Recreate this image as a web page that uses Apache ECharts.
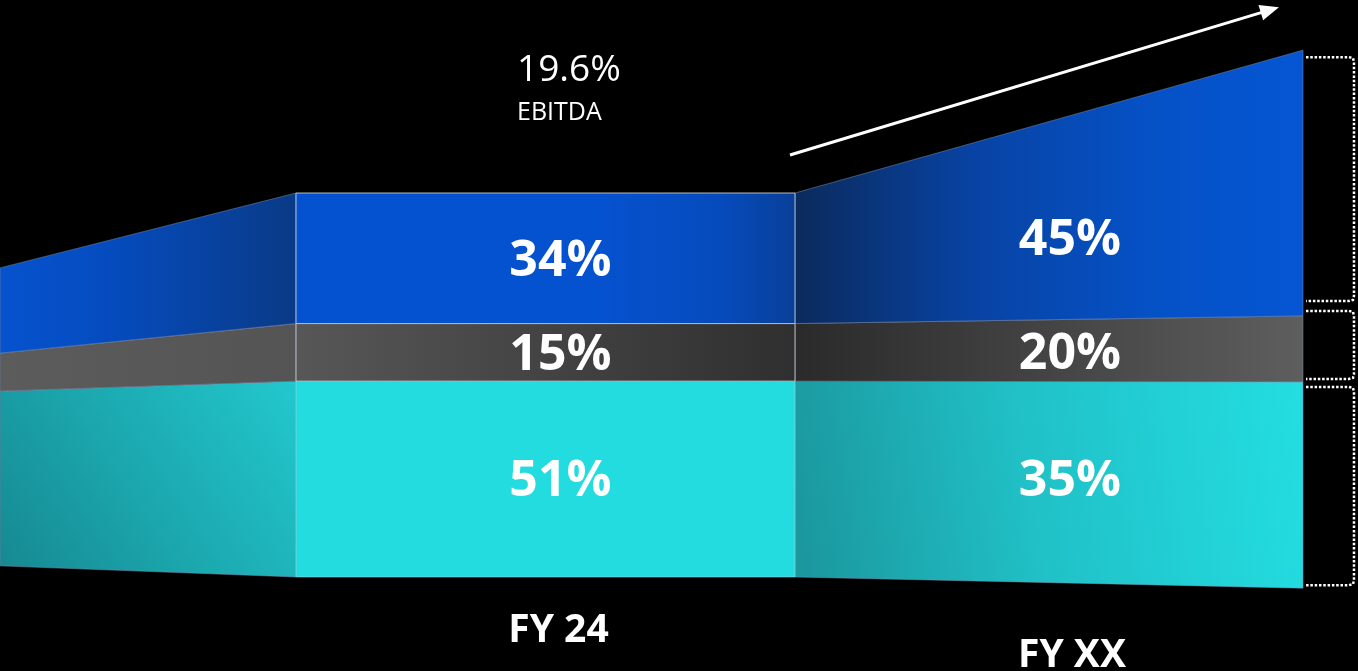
<!DOCTYPE html>
<html><head><meta charset="utf-8">
<script src="https://cdn.jsdelivr.net/npm/echarts@6/dist/echarts.min.js"></script>
<style>html,body{margin:0;padding:0;background:#000}#c{width:1358px;height:671px}</style>
</head><body><div id="c"></div>
<script>
// ---- data ----
const categories = ['FY 24', 'FY XX'];
const bandNames = ['Teal', 'Grey', 'Blue'];        // bottom to top
const fy24Shares = [51, 15, 34];
const fyXXShares = [35, 20, 45];
const ebitdaMargin = '19.6%';
const ebitdaCaption = 'EBITDA';
// drawn perspective geometry, in value units (FY 24 front face spans x 0..1, y 0..100)
const edgeX = [-0.593, 0, 1, 2.018];
const leftFadeBounds = [2.9, 48.4, 58.3, 80.5];
const fyXXBounds = [-2.9, 50.8, 68.0, 137.2];
const labelX = [0.53, 1.551];

// ---- build ----
const fy24Bounds = [0];
fy24Shares.forEach((s, i) => fy24Bounds.push(fy24Bounds[i] + s));

const LG = (x, y, x2, y2, stops) => new echarts.graphic.LinearGradient(x, y, x2, y2,
  stops.map(([o, c]) => ({ offset: o, color: c })));

const fills = [
  [ // teal
    LG(0, 1, 1, 0, [[0, '#168891'], [0.5, '#1CA9B0'], [1, '#22C8CE']]),
    '#22DCE0',
    LG(0, 0.7, 1, 0.3, [[0, '#1B979E'], [0.45, '#20C0C6'], [1, '#23DDE1']])
  ],
  [ // grey
    LG(0, 0, 1, 0, [[0, '#5C5C5C'], [1, '#545454']]),
    LG(0, 0, 1, 0, [[0, '#575757'], [1, '#2F2F2F']]),
    LG(0, 0, 1, 0, [[0, '#2A2A2A'], [1, '#5E5E5E']])
  ],
  [ // blue
    LG(0, 0, 1, 0, [[0, '#0553CE'], [0.35, '#054CC0'], [1, '#0A3A86']]),
    LG(0, 0, 1, 0, [[0, '#0552D0'], [0.6, '#0552D0'], [0.85, '#064BBC'], [1, '#093F98']]),
    LG(0, 0, 1, 0, [[0, '#0B2A5C'], [0.35, '#0843A3'], [0.7, '#0551C6'], [1, '#0556D4']])
  ]
];

// segments: 0 = left fade, 2 = right widening side, 1 = front face (drawn last)
const segs = [
  { s: 0, x0: edgeX[0], x1: edgeX[1], b0: leftFadeBounds, b1: fy24Bounds },
  { s: 2, x0: edgeX[2], x1: edgeX[3], b0: fy24Bounds, b1: fyXXBounds },
  { s: 1, x0: edgeX[1], x1: edgeX[2], b0: fy24Bounds, b1: fy24Bounds }
];
const bandData = [];
segs.forEach(sg => {
  for (let b = 0; b < 3; b++) {
    bandData.push([b, sg.s, sg.x0, sg.x1, sg.b0[b], sg.b0[b + 1], sg.b1[b], sg.b1[b + 1]]);
  }
});

// labels: [band, col, x, yMid]
const labelData = [];
const interp = (x, b) => {
  const t = (x - edgeX[2]) / (edgeX[3] - edgeX[2]);
  return fy24Bounds[b] + t * (fyXXBounds[b] - fy24Bounds[b]);
};
for (let b = 0; b < 3; b++) {
  labelData.push([b, 0, labelX[0], (fy24Bounds[b] + fy24Bounds[b + 1]) / 2]);
  labelData.push([b, 1, labelX[1], (interp(labelX[1], b) + interp(labelX[1], b + 1)) / 2]);
}
const shares = [fy24Shares, fyXXShares];
const fyXXLabelShift = [-4, 1, 20];

const chart = echarts.init(document.getElementById('c'), null, { renderer: 'canvas' });
chart.setOption({
  backgroundColor: '#000',
  animation: false,
  grid: { left: 296, right: 563, top: 193, bottom: 94 },
  xAxis: { type: 'value', min: 0, max: 1, show: false },
  yAxis: { type: 'value', min: 0, max: 100, show: false },
  series: [
    {
      type: 'custom', clip: false, silent: true,
      encode: { x: [2, 3], y: [4, 5] },
      data: bandData,
      renderItem: (params, api) => {
        const b = api.value(0), s = api.value(1);
        const x0 = api.value(2), x1 = api.value(3);
        const p = [
          api.coord([x0, api.value(4)]), api.coord([x0, api.value(5)]),
          api.coord([x1, api.value(7)]), api.coord([x1, api.value(6)])
        ];
        return {
          type: 'polygon', shape: { points: p },
          style: {
            fill: fills[b][s],
            stroke: s === 1 ? 'rgba(200,208,220,0.5)' : 'rgba(130,150,185,0.35)',
            lineWidth: s === 1 ? 1 : 0.8
          }
        };
      }
    },
    {
      type: 'custom', clip: false, silent: true,
      encode: { x: 2, y: 3 },
      data: labelData,
      renderItem: (params, api) => {
        const b = api.value(0), col = api.value(1);
        const pt = api.coord([api.value(2), api.value(3)]);
        return {
          type: 'text', x: pt[0], y: pt[1] + 3 + (col === 1 ? fyXXLabelShift[b] : 0),
          style: {
            text: shares[col][b] + '%', fill: '#fff',
            font: 'bold 50px "Open Sans"', align: 'center', verticalAlign: 'middle'
          }
        };
      }
    }
  ]
});

// ---- annotations ----
const px = (x, y) => chart.convertToPixel({ gridIndex: 0 }, [x, y]);
const g = [];
// FY labels
const bot24 = px(labelX[0], 0);
g.push({ type: 'text', x: bot24[0] - 2, y: bot24[1] + 54,
  style: { text: categories[0], fill: '#fff', font: 'bold 39px "Open Sans"', align: 'center', verticalAlign: 'middle' } });
const botXX = px(labelX[1], interp(labelX[1], 0));
g.push({ type: 'text', x: botXX[0] + 2, y: botXX[1] + 73,
  style: { text: categories[1], fill: '#fff', font: 'bold 39px "Open Sans"', align: 'center', verticalAlign: 'middle' } });
// EBITDA
const topL = px(0.443, 100);
g.push({ type: 'text', x: topL[0], y: topL[1] - 123,
  style: { text: ebitdaMargin, fill: '#fff', font: '37px "Open Sans"', align: 'left', verticalAlign: 'middle' } });
g.push({ type: 'text', x: topL[0], y: topL[1] - 80,
  style: { text: ebitdaCaption, fill: '#fff', font: '25px "Open Sans"', align: 'left', verticalAlign: 'middle' } });
// growth arrow
const a0 = px(1, 100), a1 = px(edgeX[3], fyXXBounds[3]);
const s0 = [a0[0] - 5, a0[1] - 38], tip = [a1[0] - 24, a1[1] - 43];
const dx = tip[0] - s0[0], dy = tip[1] - s0[1], len = Math.hypot(dx, dy);
const ux = dx / len, uy = dy / len, hl = 19, hw = 8;
const base = [tip[0] - ux * hl, tip[1] - uy * hl];
g.push({ type: 'line', shape: { x1: s0[0], y1: s0[1], x2: base[0] + ux * 2, y2: base[1] + uy * 2 },
  style: { stroke: '#fff', lineWidth: 3 } });
g.push({ type: 'polygon', shape: { points: [tip, [base[0] - uy * hw, base[1] + ux * hw], [base[0] + uy * hw, base[1] - ux * hw]] },
  style: { fill: '#fff' } });
// dotted brackets
const e = px(edgeX[3], 0)[0];
const yb = fyXXBounds.map(v => px(edgeX[3], v)[1]);
const spans = [[yb[3] + 7, yb[2] - 15], [yb[2] - 5, yb[1] - 3], [yb[1] + 5, yb[0] - 3]];
const xl = e + 3, xr = e + 51, r = 5;
spans.forEach(([t, bt]) => {
  g.push({ type: 'polyline', shape: { points: [[xl, t], [xr - r, t], [xr - 1, t + 1], [xr, t + r], [xr, bt - r], [xr - 1, bt - 1], [xr - r, bt], [xl, bt]] },
    style: { stroke: '#fff', lineWidth: 2.5, lineDash: [2.5, 1.8], fill: null } });
});
chart.setOption({ graphic: g });
</script></body></html>
